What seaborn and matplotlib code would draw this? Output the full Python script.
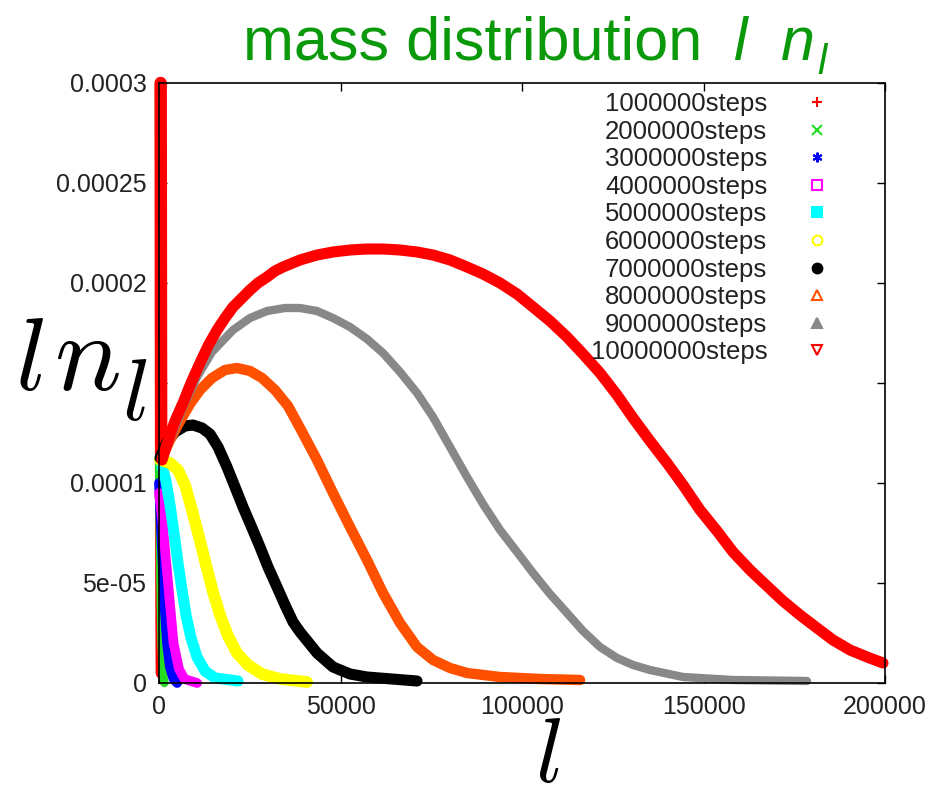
import matplotlib
matplotlib.use("Agg")
import matplotlib.pyplot as plt
from matplotlib.lines import Line2D
from matplotlib.ticker import MultipleLocator, FuncFormatter
import pandas as pd
import seaborn as sns

# ---- data: cluster size l and mass distribution l*n_l for each snapshot ----
steps = ["1000000steps", "2000000steps", "3000000steps", "4000000steps",
         "5000000steps", "6000000steps", "7000000steps", "8000000steps",
         "9000000steps", "10000000steps"]

l_1m = [450, 480, 510, 540, 570, 600, 640, 680, 720, 760, 800]
n_1m = [0.0003, 0.00026, 0.00022, 0.00018, 0.00014, 0.000113,
        0.00008, 0.00005, 0.00003, 0.000015, 0.000005]

l_2m = [0, 200, 400, 700, 1000, 1500]
n_2m = [0.00011, 0.00008, 0.00005, 0.00002, 0.000006, 0.0]

l_3m = [0, 500, 1000, 1500, 2200, 3000, 4000, 5000]
n_3m = [0.0001, 0.00008, 0.00006, 0.00004, 0.00002, 0.000008, 0.000002, 0.0]

l_4m = [0, 1000, 2000, 3000, 4000, 5500, 7000, 10500]
n_4m = [0.000095, 0.00008, 0.00006, 0.00004, 0.00002, 0.000007, 0.000002, 0.0]

l_5m = [280, 1930, 3030, 4130, 5230, 6340, 7440, 8820, 10470, 12670, 15430, 21760]
n_5m = [0.0001125, 0.000101, 0.000089, 0.000075, 0.00006, 0.0000465,
        0.000034, 0.0000225, 0.000013, 0.000006, 0.0000025, 0.000001]

l_6m = [280, 3030, 5230, 7160, 9090, 11020, 12950, 14880, 16810, 19010,
        21490, 24520, 28380, 33340, 40770]
n_6m = [0.0001115, 0.00011, 0.0001065, 0.000099, 0.0000865, 0.000073,
        0.000059, 0.0000455, 0.000034, 0.0000235, 0.000015, 0.000009,
        0.0000045, 0.000002, 0.0000005]

l_7m = [280, 2200, 4410, 7160, 9370, 11850, 14050, 16260, 18730, 20940,
        23140, 25620, 27820, 30030, 32510, 34710, 36920, 38850, 43530,
        47940, 52620, 57300, 71080]
n_7m = [0.0001125, 0.0001205, 0.0001255, 0.0001285, 0.000129, 0.0001275,
        0.0001245, 0.000118, 0.000108, 0.000098, 0.000088, 0.0000775,
        0.000068, 0.000058, 0.000048, 0.000039, 0.0000305, 0.0000255,
        0.000015, 0.000008, 0.0000045, 0.000003, 0.000001]

l_8m = [830, 3030, 5790, 8540, 11300, 14600, 18180, 21490, 25070, 28380,
        31960, 35540, 38850, 43530, 47940, 52620, 57300, 61710, 66400,
        71080, 75490, 80170, 84850, 93950, 104970, 115990]
n_8m = [0.0001125, 0.0001215, 0.000131, 0.0001395, 0.0001465, 0.0001525,
        0.0001565, 0.0001575, 0.000156, 0.0001525, 0.0001465, 0.0001385,
        0.0001275, 0.0001115, 0.000095, 0.000078, 0.0000615, 0.000045,
        0.00003, 0.000018, 0.0000115, 0.0000075, 0.000005, 0.000003,
        0.000002, 0.0000015]

l_9m = [830, 3580, 7160, 10470, 14600, 20390, 25070, 29750, 34710, 38850,
        43530, 47940, 52620, 57300, 61710, 66400, 71080, 75490, 80170,
        84850, 89260, 93950, 98630, 103040, 107720, 112400, 116810, 121500,
        126180, 130590, 135270, 144360, 158140, 178520]
n_9m = [0.0001125, 0.000124, 0.00014, 0.000153, 0.0001655, 0.0001765,
        0.0001825, 0.000186, 0.0001875, 0.0001875, 0.000186, 0.0001825,
        0.000178, 0.000172, 0.000165, 0.0001555, 0.000145, 0.000133,
        0.000118, 0.000103, 0.0000895, 0.0000765, 0.0000655, 0.000055,
        0.0000445, 0.000035, 0.000026, 0.000018, 0.0000125, 0.000009,
        0.0000065, 0.000003, 0.0000015, 0.000001]

l_10m = [830, 1930, 3030, 4410, 6610, 8820, 11300, 13500, 16000, 18180,
         20390, 22870, 25070, 27270, 29750, 31960, 34160, 38840, 43530,
         47930, 52620, 57300, 61710, 66400, 71080, 75480, 80170, 84850,
         89260, 93950, 98630, 103030, 107720, 112400, 116810, 121500,
         126180, 130590, 135270, 139950, 144360, 149040, 153720, 158130,
         162810, 167490, 171900, 176580, 181270, 185670, 190360, 195040,
         199450]
n_10m = [0.0001115, 0.000118, 0.000124, 0.000131, 0.00014, 0.00015,
         0.00016, 0.0001685, 0.0001765, 0.0001825, 0.000188, 0.0001925,
         0.0001965, 0.0002, 0.000203, 0.000206, 0.000208, 0.0002115,
         0.000214, 0.0002155, 0.0002165, 0.000217, 0.000217, 0.0002165,
         0.0002155, 0.000214, 0.0002115, 0.000208, 0.0002045, 0.0002,
         0.0001945, 0.000188, 0.000181, 0.000173, 0.0001645, 0.000155,
         0.000144, 0.0001325, 0.000121, 0.00011, 0.000099, 0.0000865,
         0.000076, 0.0000655, 0.0000565, 0.0000485, 0.000041, 0.000034,
         0.0000275, 0.0000215, 0.0000165, 0.000013, 0.00001]

series_l = [l_1m, l_2m, l_3m, l_4m, l_5m, l_6m, l_7m, l_8m, l_9m, l_10m]
series_n = [n_1m, n_2m, n_3m, n_4m, n_5m, n_6m, n_7m, n_8m, n_9m, n_10m]

# ---- styling (gnuplot-like point types) ----
colors = ["#ff0000", "#22dd22", "#0000ff", "#ff00ff", "#00ffff",
          "#ffff00", "#000000", "#ff5000", "#888888", "#ff0000"]
widths = [9, 6, 7, 7, 8, 8.5, 8, 7.5, 6, 8]
markers = ["+", "x", (6, 2, 0), "s", "s", "o", "o", "^", "^", "v"]
filled = [True, True, True, False, True, False, True, False, True, False]

sns.set_theme(style="ticks")
plt.rcParams["font.family"] = ["Liberation Sans", "DejaVu Sans"]

W, H = 933, 802
fig = plt.figure(figsize=(W / 100, H / 100), dpi=100)
ax = fig.add_axes([159 / W, 1 - 683 / H, (885 - 159) / W, (683 - 83) / H])

for lab, xs, ys, c, lw in zip(steps, series_l, series_n, colors, widths):
    df = pd.DataFrame({"l": xs, "ln_l": ys})
    sns.lineplot(data=df, x="l", y="ln_l", ax=ax, color=c, linewidth=lw,
                 sort=False, estimator=None, legend=False, clip_on=False,
                 solid_capstyle="round", solid_joinstyle="round")

ax.set_xlim(0, 200000)
ax.set_ylim(0, 0.0003)
ax.xaxis.set_major_locator(MultipleLocator(50000))
ax.yaxis.set_major_locator(MultipleLocator(0.00005))


def tick_text(v, pos):
    v = round(v, 10)
    # the 0.00015 label sits under the y-axis title
    if abs(v - 0.00015) < 1e-9:
        return ""
    return "%g" % v


ax.xaxis.set_major_formatter(FuncFormatter(tick_text))
ax.yaxis.set_major_formatter(FuncFormatter(tick_text))
ax.set_xlabel("")
ax.set_ylabel("")
ax.tick_params(direction="in", length=6, width=1, top=True, right=True,
               labelsize=18, pad=9, color="black", labelcolor="#222222")
for sp in ax.spines.values():
    sp.set_linewidth(1.2)
    sp.set_color("black")
    sp.set_zorder(5)

handles = []
for c, m, f in zip(colors, markers, filled):
    handles.append(Line2D([], [], linestyle="none", marker=m, color=c,
                          markerfacecolor=c if f else "none",
                          markeredgecolor=c, markersize=7, markeredgewidth=1.5))
ax.legend(handles, steps, loc="upper right",
          bbox_to_anchor=(843 / W, 1 - 92 / H), bbox_transform=fig.transFigure,
          frameon=False, markerfirst=False, handlelength=2.0,
          handletextpad=0.95, borderpad=0, borderaxespad=0, labelspacing=0.14,
          fontsize=18.5, labelcolor="#222222")

# title: upright words followed by italic l n_l
green = "#0a990a"
fig.text(243 / W, 1 - 60 / H, "mass distribution", color=green,
         fontsize=44, ha="left", va="baseline")
fig.text(733 / W, 1 - 60 / H, "l", color=green, fontsize=44,
         fontstyle="italic", ha="left", va="baseline")
fig.text(781 / W, 1 - 60 / H, "n", color=green, fontsize=44,
         fontstyle="italic", ha="left", va="baseline")
fig.text(817 / W, 1 - 74 / H, "l", color=green, fontsize=30,
         fontstyle="italic", ha="left", va="baseline")

# axis titles in TeX-style italics
fig.text(15 / W, 1 - 390 / H, r"$l$", fontsize=74, ha="left",
         va="baseline", math_fontfamily="cm", color="black")
fig.text(54 / W, 1 - 390 / H, r"$n$", fontsize=80, ha="left",
         va="baseline", math_fontfamily="cm", color="black")
fig.text(122 / W, 1 - 420 / H, r"$l$", fontsize=64, ha="left",
         va="baseline", math_fontfamily="cm", color="black")
fig.text(548 / W, 1 - 782 / H, r"$l$", fontsize=66, ha="center",
         va="baseline", math_fontfamily="cm", color="black")

fig.savefig("out.png", dpi=100)
